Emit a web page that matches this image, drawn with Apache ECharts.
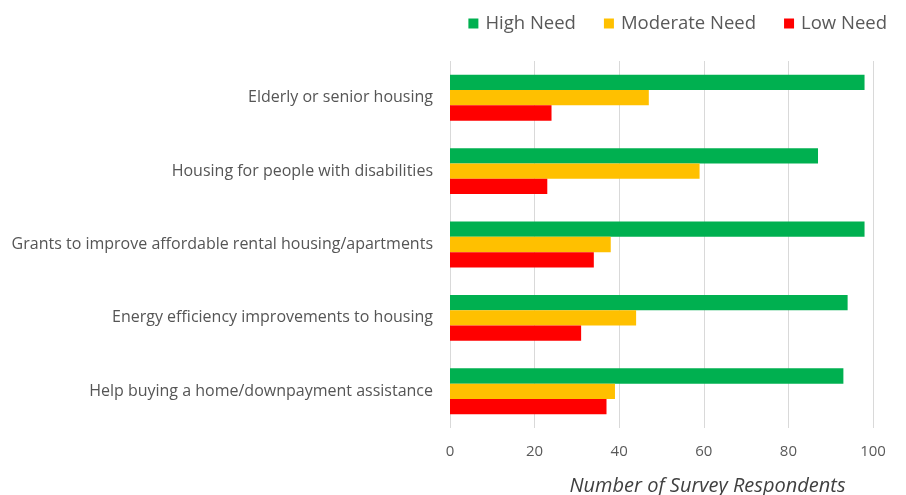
<!DOCTYPE html>
<html>
<head>
<meta charset="utf-8">
<script src="https://cdn.jsdelivr.net/npm/echarts@6/dist/echarts.min.js"></script>
<style>html,body{margin:0;padding:0;background:#fff;}#c{width:906px;height:495px;}</style>
</head>
<body>
<div id="c"></div>
<script>
const categories = [
  "Elderly or senior housing",
  "Housing for people with disabilities",
  "Grants to improve affordable rental housing/apartments",
  "Energy efficiency improvements to housing",
  "Help buying a home/downpayment assistance"
];
const seriesNames = ["High Need", "Moderate Need", "Low Need"];
const highNeed = [98, 87, 98, 94, 93];
const moderateNeed = [47, 59, 38, 44, 39];
const lowNeed = [24, 23, 34, 31, 37];
const xTicks = [0, 20, 40, 60, 80, 100];
const colors = ["#00B050", "#FFC000", "#FF0000"];
const FONT = "Open Sans";

const chart = echarts.init(document.getElementById('c'));
const values = [highNeed, moderateNeed, lowNeed];
chart.setOption({
  animation: false,
  textStyle: { fontFamily: FONT },
  legend: {
    top: 9,
    right: 14,
    itemWidth: 10,
    itemHeight: 10,
    itemGap: 28,
    icon: 'rect',
    textStyle: { fontSize: 18.5, color: '#595959', fontFamily: FONT, padding: [0, 0, 0, 2] },
    data: seriesNames
  },
  grid: { left: 450, right: 33, top: 61, bottom: 67, containLabel: false, outerBoundsMode: 'none' },
  xAxis: {
    type: 'value',
    min: xTicks[0],
    max: xTicks[xTicks.length - 1],
    interval: 20,
    axisLine: { show: false },
    axisTick: { show: false },
    splitLine: { show: true, lineStyle: { color: '#d9d9d9', width: 1 } },
    axisLabel: { fontSize: 15, color: '#595959', margin: 16, fontFamily: FONT },
    name: 'Number of Survey Respondents',
    nameLocation: 'middle',
    nameGap: 48,
    nameTextStyle: { fontSize: 20, fontStyle: 'italic', color: '#404040', fontFamily: FONT, padding: [0, 0, 0, 92] }
  },
  yAxis: {
    type: 'category',
    data: categories,
    inverse: true,
    axisLine: { show: false },
    axisTick: { show: false },
    splitLine: { show: false },
    axisLabel: { fontSize: 16, color: '#555555', margin: 17, fontFamily: FONT }
  },
  series: seriesNames.map((n, i) => ({
    name: n,
    type: 'bar',
    data: values[i],
    barWidth: 15.3,
    barGap: '0%',
    itemStyle: { color: colors[i] }
  }))
});
</script>
</body>
</html>
